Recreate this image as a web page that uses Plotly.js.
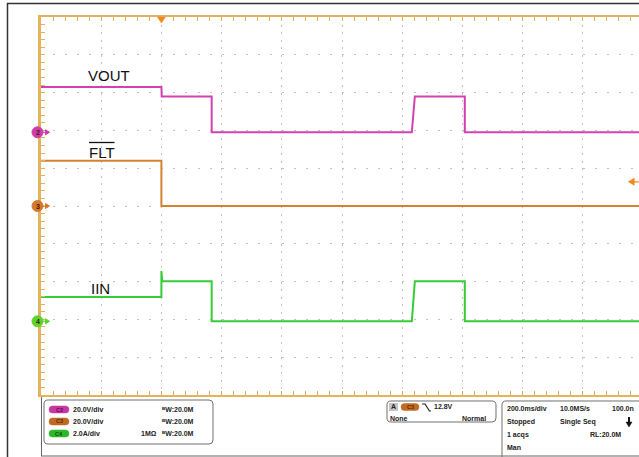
<!DOCTYPE html>
<html><head><meta charset="utf-8">
<script src="https://cdn.plot.ly/plotly-3.0.1.min.js"></script>
<style>html,body{margin:0;padding:0;overflow:hidden;background:#fff}#chart{width:645px;height:457px}</style>
</head><body><div id="chart"></div>
<script>
// ---------- data (time in ms, relative to trigger) ----------
const timeRange = [-400, 1600];
const timePerDiv = 200;
const vout_t = [-400, 0, 1, 167, 167, 832, 842, 1008, 1008, 1600];
const vout_v = [24, 24, 19, 19, 0, 0, 19, 19, 0, 0];
const flt_t  = [-400, 0, 0, 1600];
const flt_v  = [24, 24, 0, 0];
const iin_t  = [-400, 0, 0, 3, 167, 167, 832, 842, 1008, 1008, 1600];
const iin_v  = [1.29, 1.29, 2.66, 2.12, 2.12, 0, 0, 2.12, 2.12, 0, 0];
const channelLabels = ['VOUT', 'FLT', 'IIN'];
const channelScale  = [20, 20, 2];      // units per division
const channelPos    = [1.95, 0, -3.05]; // divisions above centre
const channelBadge  = ['2', '3', '4'];
const channelColor  = ['#d340b2', '#d4822e', '#36cc36'];
const triggerLevel  = 12.8;
const scaleTexts    = ['20.0V/div', '20.0V/div', '2.0A/div'];
const pillTexts     = ['C2', 'C3', 'C4'];

// ---------- geometry helpers ----------
const W = 645, H = 457, L = 41, T = 17, PW = 602, PH = 378;
const X = px => (px - L) / PW, Y = py => (T + PH - py) / PH;
const P = (x, y) => X(x).toFixed(5) + ',' + Y(y).toFixed(5);
function rr(x0, y0, x1, y1, r) {
  return 'M' + P(x0 + r, y0) + 'L' + P(x1 - r, y0) + 'Q' + P(x1, y0) + ' ' + P(x1, y0 + r) +
    'L' + P(x1, y1 - r) + 'Q' + P(x1, y1) + ' ' + P(x1 - r, y1) + 'L' + P(x0 + r, y1) +
    'Q' + P(x0, y1) + ' ' + P(x0, y1 - r) + 'L' + P(x0, y0 + r) + 'Q' + P(x0, y0) + ' ' + P(x0 + r, y0) + 'Z';
}
const chRange = i => [(-5 - channelPos[i]) * channelScale[i], (5 - channelPos[i]) * channelScale[i]];
const tan = '#e3b25c', grid = '#c2c2c2', font = 'Arial, Liberation Sans, sans-serif';

const traces = [
  {x: vout_t, y: vout_v, yaxis: 'y', mode: 'lines', line: {color: channelColor[0], width: 2}},
  {x: flt_t, y: flt_v, yaxis: 'y2', mode: 'lines', line: {color: channelColor[1], width: 2}},
  {x: iin_t, y: iin_v, yaxis: 'y3', mode: 'lines', line: {color: channelColor[2], width: 2}}
];

const r0 = chRange(0);
const crossX = side => ({overlaying: 'x', anchor: 'free', position: 0.5, side: side, range: timeRange,
  ticks: 'inside', ticklen: 3, tickcolor: '#bbbbbb', dtick: timePerDiv, tick0: 0,
  minor: {dtick: timePerDiv / 5, tick0: 0, ticks: 'inside', ticklen: 3, tickcolor: '#bbbbbb'},
  showticklabels: false, showgrid: false, zeroline: false, showline: false, fixedrange: true});
const crossY = side => ({overlaying: 'y', anchor: 'free', position: 0.5, side: side, range: r0,
  ticks: 'inside', ticklen: 3, tickcolor: '#bbbbbb', dtick: channelScale[0], tick0: r0[0],
  minor: {dtick: channelScale[0] / 5, tick0: r0[0], ticks: 'inside', ticklen: 3, tickcolor: '#bbbbbb'},
  showticklabels: false, showgrid: false, zeroline: false, showline: false, fixedrange: true});

const shapes = [], annotations = [];
const line = (x0, y0, x1, y1, color, width) => shapes.push({type: 'line', xref: 'paper', yref: 'paper',
  x0: X(x0), y0: Y(y0), x1: X(x1), y1: Y(y1), line: {color: color, width: width}});
const txt = (x, y, text, opt) => annotations.push(Object.assign({xref: 'paper', yref: 'paper', x: X(x), y: Y(y),
  text: text, showarrow: false, xanchor: 'left', yanchor: 'middle', borderpad: 0,
  font: {family: font, size: 7, color: '#222', weight: 'bold'}}, opt || {}));

// outer frame
line(7, 3.5, W, 3.5, '#333', 1.5);
line(7.5, 3, 7.5, H, '#333', 1.5);
// panel outline
line(41.5, 397, 41.5, 456, '#666', 1);
line(41, 456, W, 456, '#666', 1);
// boxes
[[44, 400, 213, 444], [387, 401, 496, 422], [502, 401, 680, 480]].forEach(b =>
  shapes.push({type: 'path', xref: 'paper', yref: 'paper', path: rr(b[0], b[1], b[2], b[3], 4), line: {color: '#707070', width: 1}}));
// channel rows in box 1
const rowY = [409.5, 421.5, 433.5];
const pillColor = ['#c8379f', '#c06a22', '#2cb82c'];
const pillText = ['#5c0f48', '#5a2c08', '#0c4a0c'];
rowY.forEach((y, i) => {
  shapes.push({type: 'path', xref: 'paper', yref: 'paper', path: rr(49, y - 3.5, 69, y + 3.5, 3.5), fillcolor: pillColor[i], line: {color: pillColor[i], width: 0.5}});
  txt(59, y, pillTexts[i], {xanchor: 'center', font: {family: font, size: 5.5, color: pillText[i], weight: 'bold'}});
  txt(72, y, scaleTexts[i]);
  txt(161, y, 'ᴮW:20.0M');
});
txt(140, rowY[2], '1MΩ');
// trigger box
shapes.push({type: 'rect', xref: 'paper', yref: 'paper', x0: X(389), x1: X(398), y0: Y(403), y1: Y(411), fillcolor: '#c4c4c4', line: {width: 0}});
txt(393.5, 407, 'A', {xanchor: 'center'});
shapes.push({type: 'path', xref: 'paper', yref: 'paper', path: rr(401, 403.5, 419, 410.5, 3.5), fillcolor: '#c06a22', line: {color: '#c06a22', width: 0.5}});
txt(410, 407, 'C3', {xanchor: 'center', font: {family: font, size: 5.5, color: '#5a2c08', weight: 'bold'}});
shapes.push({type: 'path', xref: 'paper', yref: 'paper', path: 'M' + P(422, 404) + 'L' + P(425, 404) + 'L' + P(429.5, 411) + 'L' + P(431, 411), line: {color: '#222', width: 1.2}});
txt(433, 407, '12.8V');
txt(389, 418.5, 'None');
txt(487, 418.5, 'Normal', {xanchor: 'right'});
// timebase box
txt(506, 408.5, '200.0ms/div'); txt(559, 408.5, '10.0MS/s'); txt(611, 408.5, '100.0n');
txt(506, 422, 'Stopped'); txt(559, 422, 'Single Seq');
txt(506, 434.5, '1 acqs'); txt(589, 434.5, 'RL:20.0M');
txt(506, 447, 'Man');
line(629, 417, 629, 423, '#111', 2);
shapes.push({type: 'path', xref: 'paper', yref: 'paper', path: 'M' + P(626, 422) + 'L' + P(632, 422) + 'L' + P(629, 427) + 'Z', fillcolor: '#111', line: {color: '#111', width: 0.5}});

// channel ground markers
const yrefs = ['y', 'y2', 'y3'];
const badgeFill = ['#d23aa8', '#d8782a', '#5fd12c'];
yrefs.forEach((yr, i) => {
  shapes.push({type: 'circle', xref: 'paper', xsizemode: 'pixel', xanchor: X(37.5), x0: -5.5, x1: 5.5,
    yref: yr, ysizemode: 'pixel', yanchor: 0, y0: -5.5, y1: 5.5, fillcolor: badgeFill[i], line: {color: badgeFill[i], width: 1}});
  shapes.push({type: 'path', xref: 'paper', xsizemode: 'pixel', xanchor: X(37.5), yref: yr, ysizemode: 'pixel', yanchor: 0,
    path: 'M5,0 L8,0 M8,2.5 L12,0 L8,-2.5 Z', fillcolor: badgeFill[i], line: {color: badgeFill[i], width: 1}});
  annotations.push({xref: 'paper', x: X(37.5), yref: yr, y: 0, text: channelBadge[i], showarrow: false,
    xanchor: 'center', yanchor: 'middle', font: {family: font, size: 7, color: '#3a1a10', weight: 'bold'}});
});
// trigger position marker (top) and trigger level marker (right)
shapes.push({type: 'path', xref: 'x', xsizemode: 'pixel', xanchor: 0, yref: 'paper', ysizemode: 'pixel', yanchor: 1,
  path: 'M-4,0 L4,0 L0,-6 Z', fillcolor: '#f0891c', line: {color: '#f0891c', width: 0.5}});
shapes.push({type: 'path', xref: 'paper', xsizemode: 'pixel', xanchor: X(629), yref: 'y2', ysizemode: 'pixel', yanchor: triggerLevel,
  path: 'M0,0 L5,3 L5,-3 Z M5,0 L10,0', fillcolor: '#f0891c', line: {color: '#f0891c', width: 1.2}});

// channel labels
const labelPos = [[87, 75], [88, 152.5], [90, 288]];
channelLabels.forEach((t, i) => txt(labelPos[i][0], labelPos[i][1], t, {font: {family: font, size: 15, color: '#111'}}));
line(89, 142.5, 114.5, 142.5, '#111', 1.3);

const layout = {
  width: W, height: H, margin: {l: L, r: W - L - PW, t: T, b: H - T - PH, pad: 0},
  paper_bgcolor: '#fff', plot_bgcolor: '#fff', showlegend: false,
  xaxis: {range: timeRange, dtick: timePerDiv, tick0: 0, showgrid: true, gridcolor: grid, gridwidth: 1, griddash: '2px,5.56px',
    showline: true, linecolor: tan, linewidth: 2, mirror: 'ticks', ticks: 'inside', ticklen: 4, tickcolor: tan,
    minor: {dtick: timePerDiv / 5, tick0: 0, ticks: 'inside', ticklen: 4, tickcolor: tan},
    showticklabels: false, zeroline: false, fixedrange: true},
  yaxis: {range: r0, dtick: channelScale[0], tick0: r0[0], showgrid: true, gridcolor: grid, gridwidth: 1, griddash: '2px,10.04px',
    showline: true, linecolor: tan, linewidth: 3, mirror: 'ticks', ticks: 'inside', ticklen: 4, tickcolor: tan,
    minor: {dtick: channelScale[0] / 5, tick0: r0[0], ticks: 'inside', ticklen: 4, tickcolor: tan},
    showticklabels: false, zeroline: false, fixedrange: true},
  yaxis2: {overlaying: 'y', range: chRange(1), visible: false, fixedrange: true},
  yaxis3: {overlaying: 'y', range: chRange(2), visible: false, fixedrange: true},
  xaxis2: crossX('bottom'), xaxis3: crossX('top'),
  yaxis4: crossY('left'), yaxis5: crossY('right'),
  shapes: shapes, annotations: annotations
};
Plotly.newPlot('chart', traces, layout, {displayModeBar: false, staticPlot: true});
</script></body></html>
